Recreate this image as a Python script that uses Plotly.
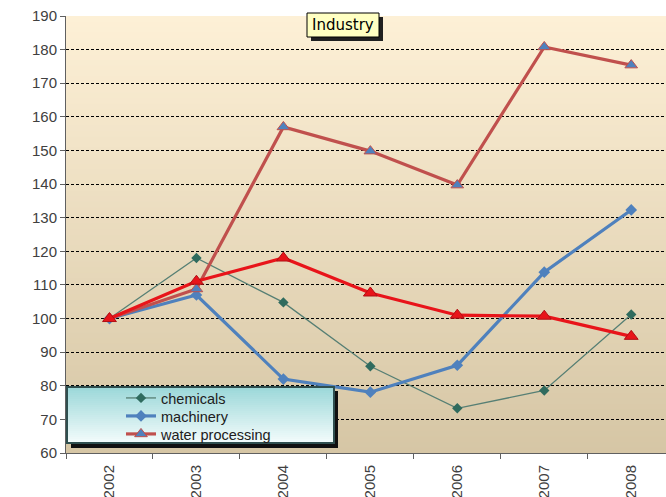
import plotly.graph_objects as go

years = ["2002", "2003", "2004", "2005", "2006", "2007", "2008"]
chemicals = [100, 118, 104.8, 85.8, 73.3, 78.6, 101.2]
machinery = [100, 107, 82, 78.1, 86.1, 113.8, 132.3]
water_processing = [100, 108.8, 157, 149.8, 139.7, 180.8, 175.4]
other_series = [100, 111.1, 118, 107.6, 101, 100.7, 94.7]

L, T, W, H = 66, 16, 600, 437  # plot area in px


def px(x):
    return (x - L) / W


def py(y):
    return (T + H - y) / H


fig = go.Figure()
fig.add_trace(go.Scatter(x=years, y=chemicals, name="chemicals", mode="lines+markers",
                         legend="legend",
                         line=dict(color="#567F74", width=1.3),
                         marker=dict(symbol="diamond", size=8, color="#2F6B5E")))
fig.add_trace(go.Scatter(x=years, y=machinery, name="machinery", mode="lines+markers",
                         legend="legend2",
                         line=dict(color="#4F81BD", width=3.2),
                         marker=dict(symbol="diamond", size=9, color="#4F81BD")))
fig.add_trace(go.Scatter(x=years, y=water_processing, name="water processing", mode="lines+markers",
                         legend="legend3",
                         line=dict(color="#C0504D", width=3.2),
                         marker=dict(symbol="triangle-up", size=11, color="#4F81BD",
                                     line=dict(color="#C0504D", width=1))))
fig.add_trace(go.Scatter(x=years, y=other_series, name="other", mode="lines+markers",
                         showlegend=False,
                         line=dict(color="#E8141A", width=3.2),
                         marker=dict(symbol="triangle-up", size=12, color="#E8141A",
                                     line=dict(color="#B01015", width=1))))

shapes = []
# gradient plot background
n = 80
top = (0xFD, 0xF0, 0xD6)
bot = (0xD6, 0xC6, 0xA5)
for i in range(n):
    t = i / (n - 1)
    c = tuple(int(round(top[k] + (bot[k] - top[k]) * t)) for k in range(3))
    shapes.append(dict(type="rect", xref="paper", yref="paper", x0=0, x1=1,
                       y0=max(0, 1 - (i + 1) / n - 0.003), y1=1 - i / n,
                       fillcolor="rgb(%d,%d,%d)" % c, line=dict(width=0), layer="below"))

# legend box shadow and gradient
shapes.append(dict(type="rect", xref="paper", yref="paper", x0=px(71), x1=px(338),
                   y0=py(448), y1=py(391), fillcolor="#101010", line=dict(width=0), layer="above"))
m = 28
ltop = (0x9C, 0xD8, 0xD9)
lbot = (0xF2, 0xFB, 0xFB)
y_top, y_bot = 387, 443
for i in range(m):
    t = i / (m - 1)
    c = tuple(int(round(ltop[k] + (lbot[k] - ltop[k]) * t)) for k in range(3))
    ya = y_top + (y_bot - y_top) * i / m
    yb = min(y_bot, y_top + (y_bot - y_top) * (i + 1) / m + 1.2)
    shapes.append(dict(type="rect", xref="paper", yref="paper", x0=px(67), x1=px(334),
                       y0=py(yb), y1=py(ya), fillcolor="rgb(%d,%d,%d)" % c,
                       line=dict(width=0), layer="above"))
shapes.append(dict(type="rect", xref="paper", yref="paper", x0=px(67), x1=px(334),
                   y0=py(y_bot), y1=py(y_top), fillcolor="rgba(0,0,0,0)",
                   line=dict(width=2, color="#2F4F4F"), layer="above"))

# title box
shapes.append(dict(type="rect", xref="paper", yref="paper", x0=px(311), x1=px(383),
                   y0=py(41), y1=py(17), fillcolor="#202020", line=dict(width=0), layer="above"))
shapes.append(dict(type="rect", xref="paper", yref="paper", x0=px(307), x1=px(379),
                   y0=py(37), y1=py(13), fillcolor="#FFFFC2", line=dict(width=1, color="#000000"),
                   layer="above"))

legend_font = dict(family="Liberation Sans, Arial, sans-serif", size=14.5, color="#202020")


def leg(ycenter):
    return dict(x=px(121), y=py(ycenter), xanchor="left", yanchor="middle",
                bgcolor="rgba(0,0,0,0)", borderwidth=0, font=legend_font,
                itemwidth=30)


fig.update_layout(
    width=666, height=497,
    margin=dict(l=L, r=0, t=T, b=497 - T - H, autoexpand=False),
    paper_bgcolor="white",
    plot_bgcolor="rgba(0,0,0,0)",
    shapes=shapes,
    showlegend=True,
    legend=leg(398),
    legend2=leg(416),
    legend3=leg(434),
    annotations=[dict(text="Industry", xref="paper", yref="paper", x=px(343), y=py(25),
                      showarrow=False, xanchor="center", yanchor="middle",
                      font=dict(family="DejaVu Sans, Verdana, sans-serif", size=15, color="#000000"))],
    font=dict(family="Liberation Sans, Arial, sans-serif"),
)
fig.update_yaxes(range=[60, 190], dtick=10, tick0=60, showgrid=True, gridcolor="#000000",
                 griddash="3px,2px", gridwidth=1, showline=True, linecolor="#606060", linewidth=1,
                 ticks="outside", ticklen=5, tickcolor="#606060", zeroline=False,
                 tickfont=dict(size=15, color="#404040"))
fig.update_xaxes(type="category", range=[-0.5, 6.4], showgrid=False, showline=True,
                 linecolor="#606060", linewidth=1, ticks="outside", ticklen=5, tickcolor="#606060",
                 tickson="boundaries", tickangle=-90, automargin=False, ticklabelstandoff=5,
                 tickfont=dict(size=15, color="#404040"))

fig.write_html("out.html")
